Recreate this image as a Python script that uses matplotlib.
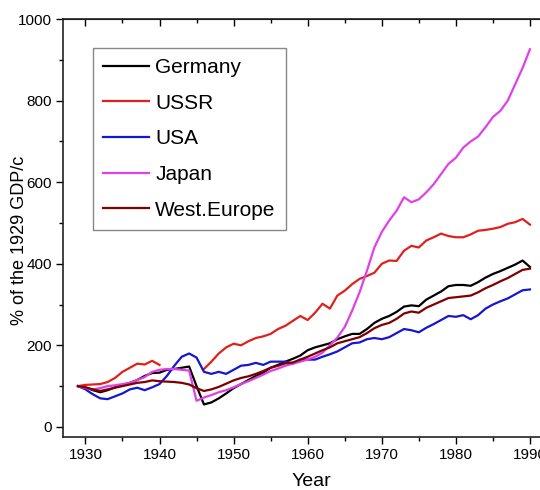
import numpy as np
import matplotlib.pyplot as plt
from matplotlib.ticker import MultipleLocator

plt.rcParams['font.family'] = ['Liberation Sans', 'DejaVu Sans']

# GDP per capita, % of the 1929 level
years = np.arange(1929, 1991)

germany = [100, 97, 90, 85, 90, 97, 103, 108, 115, 125, 132, 133, 140, 142, 145, 148,
           100, 55, 60, 70, 82, 95, 105, 115, 125, 133, 145, 152, 160, 167, 175,
           188, 195, 200, 205, 215, 222, 228, 228, 240, 255, 265, 272, 282, 295, 298,
           296, 312, 322, 332, 345, 348, 348, 346, 355, 366, 375, 382, 390, 398, 408, 392]

# USSR: no data for the war years 1941-1945
ussr = [100, 103, 104, 105, 110, 120, 135, 145, 155, 153, 162, 152,
        np.nan, np.nan, np.nan, np.nan, np.nan,
        142, 160, 180, 195, 204, 200, 210, 218, 222, 228, 240, 248, 260, 272,
        262, 280, 302, 290, 322, 334, 350, 363, 370, 378, 400, 408, 407, 432, 444,
        440, 457, 465, 474, 468, 465, 465, 472, 481, 483, 486, 490, 498, 502, 510, 496]

usa = [100, 92, 80, 70, 68, 75, 82, 92, 96, 90, 97, 105, 125, 150, 172, 180,
       170, 135, 130, 135, 130, 140, 150, 152, 157, 152, 160, 160, 160, 155, 165,
       165, 165, 172, 178, 185, 195, 205, 207, 215, 218, 215, 220, 230, 240, 237,
       232, 243, 252, 262, 272, 270, 274, 264, 274, 290, 300, 308, 315, 325, 335, 337]

japan = [100, 95, 92, 95, 100, 102, 105, 108, 115, 122, 135, 140, 142, 142, 140, 138,
         64, 72, 78, 85, 90, 97, 105, 112, 120, 128, 137, 143, 150, 155, 160,
         165, 172, 182, 200, 219, 245, 285, 330, 383, 440, 478, 506, 530, 563, 551,
         558, 575, 595, 620, 645, 660, 685, 700, 712, 735, 760, 775, 800, 840, 880, 926]

west_europe = [100, 97, 92, 88, 92, 96, 100, 104, 108, 110, 114, 112, 111, 110, 108, 104,
               95, 88, 92, 98, 106, 114, 120, 124, 130, 137, 145, 150, 156, 158, 165,
               172, 180, 188, 195, 205, 210, 215, 220, 230, 242, 250, 255, 265, 278, 283,
               280, 292, 300, 308, 316, 318, 320, 322, 330, 340, 348, 357, 365, 375, 385, 388]

series = [('Germany', germany, 'black'),
          ('USSR', ussr, '#e0201c'),
          ('USA', usa, '#1616d0'),
          ('Japan', japan, '#e040e8'),
          ('West.Europe', west_europe, '#800000')]

fig = plt.figure(figsize=(5.4, 4.9), dpi=100)
ax = fig.add_axes([0.117, 0.108, 0.885, 0.853])

for name, vals, col in series:
    ax.plot(years, vals, color=col, lw=1.6, label=name)

ax.set_xlim(1927, 1991.5)
ax.set_ylim(-25, 1000)
ax.xaxis.set_major_locator(MultipleLocator(10))
ax.xaxis.set_minor_locator(MultipleLocator(5))
ax.yaxis.set_major_locator(MultipleLocator(200))
ax.yaxis.set_minor_locator(MultipleLocator(100))
ax.tick_params(which='both', direction='out', top=False, right=False, labelsize=11, width=1)
ax.tick_params(which='major', length=5, pad=3)
ax.tick_params(which='minor', length=3)
for sp in ax.spines.values():
    sp.set_linewidth(1.2)
    sp.set_color('#222222')

# inward ticks along the top edge
top = ax.secondary_xaxis('top')
top.xaxis.set_major_locator(MultipleLocator(10))
top.xaxis.set_minor_locator(MultipleLocator(5))
top.tick_params(which='both', direction='in', labeltop=False, width=1)
top.tick_params(which='major', length=5)
top.tick_params(which='minor', length=3)

ax.set_xlabel('Year', fontsize=14)
ax.xaxis.set_label_coords(0.52, -0.085)
ax.set_ylabel('% of the 1929 GDP/c', fontsize=13)
ax.yaxis.set_label_coords(-0.074, 0.47)

leg = ax.legend(loc='upper left', bbox_to_anchor=(0.062, 0.932), fontsize=15,
                handlelength=2.2, handletextpad=0.3, labelspacing=0.8,
                fancybox=False, framealpha=1, borderpad=0.5, borderaxespad=0)
leg.get_frame().set_edgecolor('#888888')
leg.get_frame().set_linewidth(1)

fig.savefig('out.png', dpi=100)
